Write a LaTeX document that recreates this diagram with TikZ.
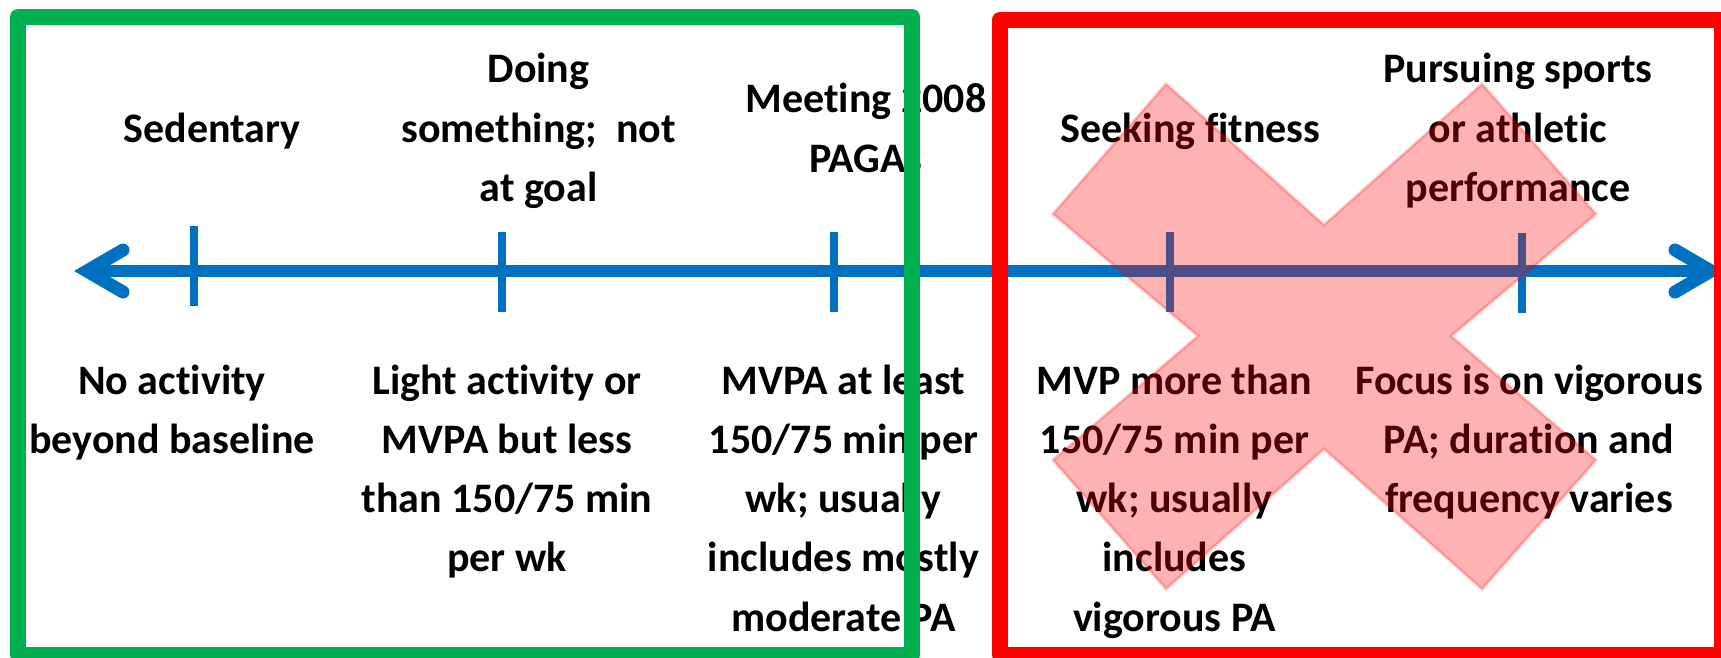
\documentclass[tikz,border=0pt]{standalone}
\usepackage{fontspec}
\setmainfont{Carlito}[Ligatures=NoCommon]
\definecolor{axisblue}{HTML}{0070C0}
\definecolor{boxgreen}{HTML}{00B050}
\definecolor{boxred}{HTML}{FF0000}
\newcommand{\mylines}[1]{\begin{tabular}[t]{@{}c@{}}#1\end{tabular}}
\begin{document}
\begin{tikzpicture}[x=0.5pt,y=-0.5pt,
  lbl/.style={inner sep=0pt, anchor=base, font=\fontsize{21}{29.65}\selectfont\bfseries},
  axisline/.style={draw=axisblue, line width=6pt},
  barbline/.style={draw=axisblue, line width=6.5pt, line cap=round, line join=miter},
  tickline/.style={draw=axisblue, line width=4pt},
  framebox/.style={line width=8pt, line join=round},
  cross/.style={fill=boxred, fill opacity=0.3, draw=boxred, draw opacity=0.22, line width=1.5pt, line join=miter}
]
\useasboundingbox (0,0) rectangle (1721,658);
\fill[white] (0,0) rectangle (1721,658);

% axis
\coordinate (axL) at (87,271);
\coordinate (axR) at (1711,271);
\draw[axisline] (axL) -- (axR);
\draw[barbline] (axL) ++(36,-21) -- (axL) -- ++(36,21);
\draw[barbline] (axR) ++(-36,-21) -- (axR) -- ++(-36,21);

% ticks
\draw[tickline] (194,226) -- (194,306);
\draw[tickline] (502,232) -- (502,312);
\draw[tickline] (834,232) -- (834,312);
\draw[tickline] (1170,232) -- (1170,312);
\draw[tickline] (1522,233) -- (1522,313);

% top labels
\node[lbl] (sed) at (212,143) {\mylines{Sedentary}};
\node[lbl] (doing) at (538.5,83) {\mylines{Doing\\something;\ \ not\\at goal}};
\node[lbl] (meet) at (866,113) {\mylines{Meeting 2008\\PAGAs}};
\node[lbl] (seek) at (1190.5,143) {\mylines{Seeking fitness}};
\node[lbl] (purs) at (1518,83) {\mylines{Pursuing sports\\or athletic\\performance}};

% bottom labels
\node[lbl] (noact) at (172,394) {\mylines{No activity\\beyond baseline}};
\node[lbl] (light) at (507,394) {\mylines{Light activity or\\MVPA but less\\than 150/75 min\\per wk}};
\node[lbl] (mvpa) at (843.5,394) {\mylines{MVPA at least\\150/75 min per\\wk; usually\\includes mostly\\moderate PA}};
\node[lbl] (mvp) at (1174.5,394) {\mylines{MVP more than\\150/75 min per\\wk; usually\\includes\\vigorous PA}};
\node[lbl] (focus) at (1529,394) {\mylines{Focus is on vigorous\\PA; duration and\\frequency varies}};

% frames
\draw[framebox, boxgreen] (18,17) rectangle (912,655);
\draw[framebox, boxred] (1000,20) rectangle (1722,655);

% cross
\draw[cross] (1166,84) -- (1324,225) -- (1482,84) -- (1596,214) -- (1451,336)
  -- (1596,460) -- (1482,589) -- (1324,449) -- (1166,589) -- (1053,460)
  -- (1198,336) -- (1053,214) -- cycle;
\end{tikzpicture}
\end{document}
